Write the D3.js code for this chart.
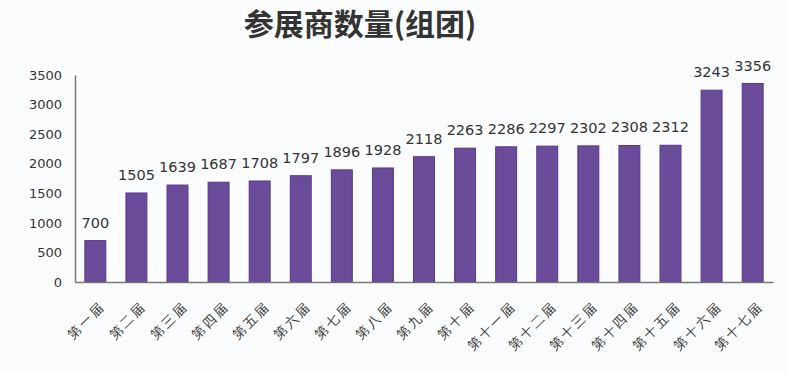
<!DOCTYPE html>
<head>
	<meta charset="utf-8">
	<style>
		body { margin: 0; background: #fbfcfd; }
		svg { font-family: "Noto Sans CJK SC", sans-serif; }
		svg .tick text { fill: #333; font-size: 13px; font-family: "DejaVu Sans", sans-serif; }
		svg .label { fill: #333; font-size: 14.5px; font-family: "DejaVu Sans", sans-serif; }
	</style>
</head>
<body>
	<svg width="788" height="373"></svg>
	<script src="https://d3js.org/d3.v7.min.js"></script>
	<script>
		var categories = ["第一届", "第二届", "第三届", "第四届", "第五届", "第六届", "第七届", "第八届", "第九届",
			"第十届", "第十一届", "第十二届", "第十三届", "第十四届", "第十五届", "第十六届", "第十七届"];
		var values = [700, 1505, 1639, 1687, 1708, 1797, 1896, 1928, 2118, 2263, 2286, 2297, 2302, 2308, 2312, 3243, 3356];
		var yTicks = [0, 500, 1000, 1500, 2000, 2500, 3000, 3500];

		var svg = d3.select("svg"),
			margin = { top: 75, right: 15, bottom: 91, left: 75 },
			width = 788 - margin.left - margin.right,
			height = 373 - margin.top - margin.bottom,
			g = svg.append("g").attr("transform", "translate(" + margin.left + "," + margin.top + ")");

		svg.append("text")
			.attr("x", 360).attr("y", 35)
			.attr("text-anchor", "middle")
			.attr("font-size", 30).attr("font-weight", "bold")
			.attr("fill", "#333")
			.text("参展商数量(组团)");

		var x = d3.scaleBand().domain(categories).range([0, width]).paddingInner(0.49).paddingOuter(0.24);
		var y = d3.scaleLinear().domain([0, 3500]).range([height, 0]);

		// y axis
		var ya = g.append("g").call(d3.axisLeft(y).tickValues(yTicks).tickFormat(d3.format("d")).tickSize(0).tickPadding(13));
		ya.select(".domain").attr("stroke", "#777").attr("stroke-width", 1.5);

		// bars
		g.selectAll("rect.bar")
			.data(values)
			.enter().append("rect")
			.attr("class", "bar")
			.attr("x", function (d, i) { return x(categories[i]); })
			.attr("y", y)
			.attr("width", x.bandwidth())
			.attr("height", function (d) { return height - y(d); })
			.attr("fill", "#6b4c9b")
			.attr("stroke", "#55388a")
			.attr("stroke-width", 1);

		g.selectAll(".label")
			.data(values)
			.enter().append("text")
			.attr("class", "label")
			.attr("x", function (d, i) { return x(categories[i]) + x.bandwidth() / 2; })
			.attr("y", function (d) { return y(d) - 13; })
			.attr("text-anchor", "middle")
			.text(String);

		// x axis
		var xa = g.append("g").attr("transform", "translate(0," + height + ")")
			.call(d3.axisBottom(x).tickSize(0).tickPadding(0));
		xa.select(".domain").attr("stroke", "#777").attr("stroke-width", 1.5);
		xa.selectAll("text")
			.attr("text-anchor", "end")
			.attr("font-size", 16)
			.attr("letter-spacing", 2.5)
			.attr("font-family", "Noto Sans CJK SC")
			.attr("fill", "#333")
			.attr("dy", 0)
			.attr("transform", "translate(11,25) rotate(-45)");
	</script>
</body>
